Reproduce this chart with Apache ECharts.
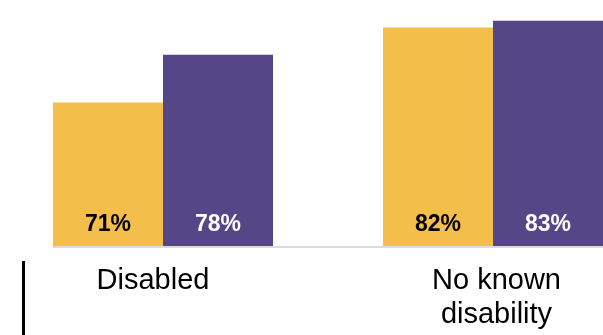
<!DOCTYPE html>
<html>
<head>
<meta charset="utf-8">
<script src="https://cdn.jsdelivr.net/npm/echarts@6/dist/echarts.min.js"></script>
<style>
  html, body { margin: 0; padding: 0; background: #ffffff; }
  #chart { width: 603px; height: 335px; }
</style>
</head>
<body>
<div id="chart"></div>
<script>
// Share (%) by disability status, two groups per category
const categories = ['Disabled', 'No known\ndisability'];
const seriesNames = ['Group A', 'Group B'];
const groupA = [71, 82];
const groupB = [78, 83];
const valueMin = 50;
const valueMax = 85;

const FONT = 'Arial, "Liberation Sans", Helvetica, sans-serif';
const YELLOW = '#F4BE4A';
const PURPLE = '#544687';
const BAR_W = 110;

const chart = echarts.init(document.getElementById('chart'), null, { renderer: 'canvas' });

function labelStyle(color) {
  return {
    show: true,
    position: 'insideBottom',
    distance: 10,
    formatter: p => p.value + '%',
    color: color,
    fontFamily: FONT,
    fontWeight: 'bold',
    fontSize: 23
  };
}

chart.setOption({
  animation: false,
  backgroundColor: '#ffffff',
  grid: {
    left: -2,
    right: -55,
    top: 7,
    bottom: 89,
    containLabel: false,
    outerBoundsMode: 'none'
  },
  xAxis: {
    type: 'category',
    data: [
      { value: categories[0], textStyle: { padding: [0, 20, 0, 0] } },
      { value: categories[1], textStyle: { padding: [0, 0, 0, 7] } }
    ],
    axisLine: { show: false },
    axisTick: { show: false },
    axisLabel: {
      margin: 18,
      color: '#000000',
      fontFamily: FONT,
      fontSize: 29,
      lineHeight: 34,
      interval: 0
    }
  },
  yAxis: {
    type: 'value',
    min: valueMin,
    max: valueMax,
    show: false,
    splitLine: { show: false }
  },
  series: [
    {
      name: seriesNames[0],
      type: 'bar',
      data: groupA,
      barWidth: BAR_W,
      barGap: '0%',
      itemStyle: { color: YELLOW },
      label: labelStyle('#000000')
    },
    {
      name: seriesNames[1],
      type: 'bar',
      data: groupB,
      barWidth: BAR_W,
      barGap: '0%',
      itemStyle: { color: PURPLE },
      label: labelStyle('#ffffff')
    }
  ]
});

// Baseline rule starting at the first bar, plus the separator bar on the left
const base = chart.convertToPixel({ gridIndex: 0 }, [0, valueMin]);
chart.setOption({
  graphic: [
    {
      type: 'rect',
      shape: { x: base[0] - BAR_W, y: base[1], width: 603 - (base[0] - BAR_W), height: 2 },
      style: { fill: '#dcdcdc' },
      silent: true
    },
    {
      type: 'rect',
      shape: { x: 22, y: 261, width: 3, height: 74 },
      style: { fill: '#000000' },
      silent: true
    }
  ]
});
</script>
</body>
</html>
